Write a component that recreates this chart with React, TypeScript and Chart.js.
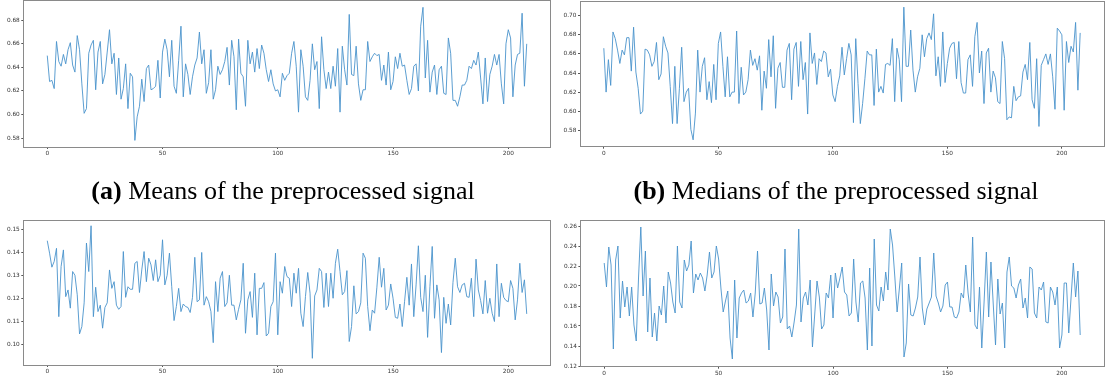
import React, { useEffect, useRef } from "react";
import { Chart, registerables } from "chart.js";
Chart.register(...registerables);

const xTicks = [0, 50, 100, 150, 200];
const meansTicks = [0.58, 0.6, 0.62, 0.64, 0.66, 0.68];
const mediansTicks = [0.58, 0.6, 0.62, 0.64, 0.66, 0.68, 0.7];
const cTicks = [0.1, 0.11, 0.12, 0.13, 0.14, 0.15];
const dTicks = [0.12, 0.14, 0.16, 0.18, 0.2, 0.22, 0.24, 0.26];

const means = [
  0.650, 0.628, 0.629, 0.622, 0.662, 0.645, 0.641, 0.651, 0.643, 0.655,
  0.661, 0.642, 0.636, 0.667, 0.655, 0.626, 0.601, 0.605, 0.652, 0.659,
  0.663, 0.621, 0.653, 0.662, 0.626, 0.634, 0.653, 0.672, 0.643, 0.652,
  0.617, 0.648, 0.613, 0.622, 0.643, 0.605, 0.635, 0.632, 0.578, 0.598,
  0.607, 0.630, 0.611, 0.639, 0.642, 0.621, 0.622, 0.624, 0.646, 0.614,
  0.653, 0.664, 0.655, 0.632, 0.663, 0.624, 0.618, 0.646, 0.675, 0.615,
  0.643, 0.634, 0.617, 0.632, 0.642, 0.648, 0.670, 0.643, 0.655, 0.618,
  0.627, 0.655, 0.613, 0.621, 0.641, 0.634, 0.638, 0.645, 0.657, 0.625,
  0.663, 0.649, 0.604, 0.664, 0.635, 0.632, 0.607, 0.663, 0.643, 0.653,
  0.636, 0.656, 0.639, 0.659, 0.652, 0.638, 0.628, 0.638, 0.626, 0.620,
  0.621, 0.615, 0.635, 0.629, 0.633, 0.635, 0.652, 0.662, 0.641, 0.602,
  0.655, 0.641, 0.615, 0.612, 0.629, 0.660, 0.638, 0.645, 0.605, 0.666,
  0.638, 0.622, 0.636, 0.622, 0.641, 0.624, 0.656, 0.602, 0.658, 0.638,
  0.625, 0.685, 0.634, 0.633, 0.658, 0.626, 0.612, 0.621, 0.621, 0.662,
  0.645, 0.649, 0.652, 0.650, 0.651, 0.629, 0.642, 0.625, 0.653, 0.621,
  0.628, 0.649, 0.639, 0.652, 0.641, 0.642, 0.629, 0.617, 0.622, 0.641,
  0.643, 0.620, 0.675, 0.691, 0.631, 0.663, 0.619, 0.636, 0.642, 0.617,
  0.638, 0.641, 0.618, 0.617, 0.665, 0.652, 0.612, 0.612, 0.607, 0.615,
  0.625, 0.625, 0.629, 0.641, 0.639, 0.646, 0.642, 0.653, 0.631, 0.609,
  0.648, 0.611, 0.634, 0.641, 0.651, 0.642, 0.651, 0.626, 0.609, 0.660,
  0.672, 0.665, 0.615, 0.642, 0.651, 0.652, 0.686, 0.624, 0.660,
];

const medians = [
  0.666, 0.620, 0.654, 0.627, 0.683, 0.676, 0.664, 0.650, 0.664, 0.659,
  0.677, 0.677, 0.642, 0.688, 0.641, 0.624, 0.597, 0.600, 0.665, 0.664,
  0.659, 0.647, 0.652, 0.672, 0.633, 0.639, 0.678, 0.668, 0.661, 0.626,
  0.587, 0.647, 0.587, 0.624, 0.667, 0.610, 0.620, 0.624, 0.581, 0.570,
  0.598, 0.664, 0.620, 0.647, 0.656, 0.612, 0.631, 0.609, 0.649, 0.612,
  0.671, 0.683, 0.647, 0.615, 0.657, 0.615, 0.620, 0.620, 0.684, 0.608,
  0.646, 0.617, 0.620, 0.633, 0.664, 0.648, 0.655, 0.643, 0.658, 0.601,
  0.642, 0.624, 0.675, 0.636, 0.679, 0.603, 0.645, 0.651, 0.625, 0.625,
  0.664, 0.671, 0.612, 0.665, 0.672, 0.626, 0.673, 0.633, 0.651, 0.597,
  0.682, 0.650, 0.661, 0.628, 0.655, 0.652, 0.663, 0.661, 0.636, 0.644,
  0.617, 0.610, 0.626, 0.637, 0.667, 0.638, 0.655, 0.671, 0.659, 0.588,
  0.676, 0.629, 0.587, 0.608, 0.634, 0.663, 0.659, 0.659, 0.606, 0.665,
  0.620, 0.626, 0.619, 0.649, 0.650, 0.648, 0.676, 0.610, 0.666, 0.654,
  0.610, 0.709, 0.647, 0.647, 0.685, 0.643, 0.620, 0.636, 0.645, 0.680,
  0.657, 0.676, 0.682, 0.675, 0.702, 0.637, 0.657, 0.626, 0.683, 0.630,
  0.650, 0.666, 0.671, 0.672, 0.634, 0.673, 0.630, 0.619, 0.619, 0.654,
  0.659, 0.626, 0.678, 0.693, 0.640, 0.663, 0.608, 0.661, 0.666, 0.620,
  0.642, 0.635, 0.610, 0.608, 0.673, 0.655, 0.591, 0.594, 0.593, 0.626,
  0.611, 0.615, 0.616, 0.641, 0.649, 0.633, 0.672, 0.612, 0.603, 0.655,
  0.584, 0.648, 0.654, 0.660, 0.649, 0.660, 0.636, 0.602, 0.687, 0.684,
  0.680, 0.601, 0.673, 0.651, 0.668, 0.662, 0.693, 0.622, 0.682,
];

const seriesC = [
  0.1450, 0.1396, 0.1335, 0.1360, 0.1417, 0.1120, 0.1338, 0.1410, 0.1207, 0.1236,
  0.1157, 0.1316, 0.1300, 0.1215, 0.1045, 0.1077, 0.1180, 0.1440, 0.1316, 0.1515,
  0.1120, 0.1248, 0.1142, 0.1170, 0.1070, 0.1160, 0.1180, 0.1323, 0.1243, 0.1272,
  0.1170, 0.1152, 0.1164, 0.1403, 0.1204, 0.1250, 0.1239, 0.1239, 0.1352, 0.1360,
  0.1225, 0.1323, 0.1403, 0.1272, 0.1374, 0.1345, 0.1277, 0.1367, 0.1272, 0.1300,
  0.1454, 0.1258, 0.1300, 0.1396, 0.1250, 0.1103, 0.1164, 0.1243, 0.1142, 0.1175,
  0.1164, 0.1160, 0.1138, 0.1204, 0.1378, 0.1185, 0.1193, 0.1399, 0.1170, 0.1207,
  0.1185, 0.1142, 0.1007, 0.1272, 0.1142, 0.1287, 0.1316, 0.1164, 0.1180, 0.1300,
  0.1170, 0.1170, 0.1106, 0.1152, 0.1193, 0.1352, 0.1048, 0.1193, 0.1229, 0.1117,
  0.1309, 0.1041, 0.1243, 0.1243, 0.1268, 0.1036, 0.1048, 0.1164, 0.1185, 0.1396,
  0.1041, 0.1272, 0.1222, 0.1338, 0.1294, 0.1287, 0.1164, 0.1309, 0.1222, 0.1330,
  0.1135, 0.1077, 0.1207, 0.1312, 0.1222, 0.0939, 0.1210, 0.1236, 0.1330, 0.1316,
  0.1160, 0.1309, 0.1164, 0.1309, 0.1200, 0.1352, 0.1413, 0.1316, 0.1215, 0.1229,
  0.1320, 0.1012, 0.1077, 0.1254, 0.1132, 0.1142, 0.1180, 0.1396, 0.1374, 0.1164,
  0.1059, 0.1149, 0.1135, 0.1248, 0.1378, 0.1248, 0.1330, 0.1149, 0.1170, 0.1262,
  0.1200, 0.1117, 0.1113, 0.1175, 0.1077, 0.1185, 0.1291, 0.1170, 0.1349, 0.1120,
  0.1258, 0.1428, 0.1204, 0.1142, 0.1300, 0.1030, 0.1250, 0.1425, 0.1113, 0.1258,
  0.1193, 0.0964, 0.1204, 0.1091, 0.1175, 0.1084, 0.1268, 0.1374, 0.1250, 0.1225,
  0.1258, 0.1265, 0.1207, 0.1204, 0.1287, 0.1120, 0.1370, 0.1236, 0.1190, 0.1132,
  0.1277, 0.1135, 0.1200, 0.1135, 0.1099, 0.1349, 0.1120, 0.1265, 0.1204, 0.1190,
  0.1185, 0.1277, 0.1243, 0.1106, 0.1193, 0.1352, 0.1225, 0.1280, 0.1132,
];

const seriesD = [
  0.223, 0.199, 0.239, 0.221, 0.137, 0.226, 0.240, 0.168, 0.205, 0.179,
  0.199, 0.170, 0.199, 0.161, 0.145, 0.208, 0.259, 0.190, 0.235, 0.154,
  0.208, 0.149, 0.173, 0.145, 0.180, 0.171, 0.200, 0.163, 0.214, 0.203,
  0.184, 0.173, 0.240, 0.184, 0.178, 0.226, 0.215, 0.221, 0.245, 0.193,
  0.212, 0.206, 0.213, 0.208, 0.195, 0.211, 0.234, 0.208, 0.214, 0.240,
  0.227, 0.198, 0.174, 0.185, 0.195, 0.148, 0.127, 0.206, 0.148, 0.188,
  0.193, 0.196, 0.183, 0.185, 0.193, 0.169, 0.193, 0.235, 0.182, 0.183,
  0.198, 0.176, 0.136, 0.212, 0.180, 0.194, 0.189, 0.163, 0.169, 0.237,
  0.157, 0.160, 0.149, 0.164, 0.181, 0.257, 0.164, 0.188, 0.194, 0.181,
  0.206, 0.139, 0.172, 0.205, 0.189, 0.157, 0.161, 0.193, 0.188, 0.211,
  0.168, 0.213, 0.198, 0.208, 0.219, 0.194, 0.191, 0.170, 0.173, 0.227,
  0.184, 0.164, 0.203, 0.205, 0.188, 0.136, 0.218, 0.140, 0.247, 0.181,
  0.175, 0.199, 0.185, 0.214, 0.196, 0.257, 0.241, 0.209, 0.174, 0.198,
  0.223, 0.129, 0.143, 0.202, 0.171, 0.170, 0.178, 0.189, 0.229, 0.178,
  0.161, 0.177, 0.183, 0.189, 0.233, 0.190, 0.183, 0.174, 0.180, 0.201,
  0.204, 0.179, 0.179, 0.169, 0.168, 0.174, 0.193, 0.188, 0.221, 0.193,
  0.174, 0.249, 0.161, 0.157, 0.199, 0.138, 0.184, 0.234, 0.169, 0.224,
  0.182, 0.141, 0.207, 0.172, 0.183, 0.138, 0.214, 0.229, 0.200, 0.198,
  0.188, 0.201, 0.207, 0.178, 0.188, 0.168, 0.219, 0.217, 0.173, 0.168,
  0.199, 0.196, 0.204, 0.164, 0.163, 0.199, 0.194, 0.181, 0.199, 0.138,
  0.151, 0.203, 0.203, 0.153, 0.188, 0.223, 0.189, 0.215, 0.151,
];

const LINE = "#4a93cc";
const SPINE = "#8a8a8a";
const TICK_FONT = { family: "DejaVu Sans", size: 5.8 };

const framePlugin = {
  id: "frame",
  afterDraw(chart: any) {
    const { ctx, chartArea: a } = chart;
    ctx.save();
    ctx.strokeStyle = SPINE;
    ctx.lineWidth = 1;
    const l = Math.floor(a.left) + 0.5;
    const t = Math.floor(a.top) + 0.5;
    const r = Math.floor(a.right) + 0.5;
    const b = Math.floor(a.bottom) + 0.5;
    ctx.strokeRect(l, t, r - l, b - t);
    ctx.restore();
  },
};

type Box = { left: number; top: number; w: number; h: number };
type Plot = { left: number; right: number; top: number; bottom: number };

function Panel(props: {
  values: number[];
  yTicks: number[];
  yMin: number;
  yMax: number;
  box: Box;
  plot: Plot;
}) {
  const ref = useRef<HTMLCanvasElement>(null);
  useEffect(() => {
    const { values, yTicks, yMin, yMax, box, plot } = props;
    const chart = new Chart(ref.current as HTMLCanvasElement, {
      type: "line",
      data: {
        datasets: [
          {
            data: values.map((v, i) => ({ x: i, y: v })),
            borderColor: LINE,
            borderWidth: 0.9,
            pointRadius: 0,
            tension: 0,
            fill: false,
          },
        ],
      },
      options: {
        animation: false,
        responsive: false,
        maintainAspectRatio: false,
        events: [],
        layout: {
          padding: {
            left: 0,
            top: plot.top - box.top,
            right: box.left + box.w - plot.right,
            bottom: 0,
          },
        },
        plugins: { legend: { display: false }, tooltip: { enabled: false } },
        scales: {
          x: {
            type: "linear",
            min: -10.4,
            max: 218.4,
            afterBuildTicks: (s: any) => {
              s.ticks = xTicks.map((v) => ({ value: v }));
            },
            afterFit: (s: any) => {
              s.height = box.top + box.h - plot.bottom;
              s.paddingLeft = 0;
              s.paddingRight = 0;
            },
            grid: {
              display: true,
              drawOnChartArea: false,
              drawTicks: true,
              tickLength: 2,
              color: "#555",
            },
            border: { display: false },
            ticks: {
              font: TICK_FONT,
              color: "#333",
              padding: 1,
              maxRotation: 0,
              autoSkip: false,
              callback: (v: any) => String(v),
            },
          },
          y: {
            type: "linear",
            min: yMin,
            max: yMax,
            afterBuildTicks: (s: any) => {
              s.ticks = yTicks.map((v) => ({ value: v }));
            },
            afterFit: (s: any) => {
              s.width = plot.left - box.left;
              s.paddingTop = 0;
              s.paddingBottom = 0;
            },
            grid: {
              display: true,
              drawOnChartArea: false,
              drawTicks: true,
              tickLength: 2,
              color: "#555",
            },
            border: { display: false },
            ticks: {
              font: TICK_FONT,
              color: "#333",
              padding: 1.5,
              autoSkip: false,
              callback: (v: any) => Number(v).toFixed(2),
            },
          },
        },
      },
      plugins: [framePlugin],
    } as any);
    return () => chart.destroy();
  }, []);
  const { box } = props;
  return (
    <canvas
      ref={ref}
      width={box.w}
      height={box.h}
      style={{
        position: "absolute",
        left: box.left,
        top: box.top,
        width: box.w,
        height: box.h,
      }}
    />
  );
}

const captionStyle: React.CSSProperties = {
  position: "absolute",
  top: 178,
  transform: "translateX(-50%)",
  fontFamily: '"Liberation Serif", "Times New Roman", serif',
  fontSize: 26,
  lineHeight: "26px",
  whiteSpace: "nowrap",
  color: "#000",
};

export default function App() {
  return (
    <div
      style={{
        position: "absolute",
        left: 0,
        top: 0,
        width: 1105,
        height: 381,
        background: "#fff",
        overflow: "hidden",
      }}
    >
      <Panel
        values={means}
        yTicks={meansTicks}
        yMin={0.5724}
        yMax={0.6968}
        box={{ left: 0, top: 0, w: 553, h: 165 }}
        plot={{ left: 23.3, right: 550.7, top: 0.5, bottom: 147 }}
      />
      <Panel
        values={medians}
        yTicks={mediansTicks}
        yMin={0.5628}
        yMax={0.7147}
        box={{ left: 556, top: 0, w: 549, h: 165 }}
        plot={{ left: 580, right: 1104, top: 1.7, bottom: 146.7 }}
      />
      <Panel
        values={seriesC}
        yTicks={cTicks}
        yMin={0.091}
        yMax={0.154}
        box={{ left: 0, top: 200, w: 553, h: 181 }}
        plot={{ left: 23.3, right: 550.7, top: 220, bottom: 365 }}
      />
      <Panel
        values={seriesD}
        yTicks={dTicks}
        yMin={0.1193}
        yMax={0.266}
        box={{ left: 556, top: 200, w: 549, h: 181 }}
        plot={{ left: 580.4, right: 1104, top: 220, bottom: 366.7 }}
      />
      <div style={{ ...captionStyle, left: 283 }}>
        <b>(a)</b> Means of the preprocessed signal
      </div>
      <div style={{ ...captionStyle, left: 836 }}>
        <b>(b)</b> Medians of the preprocessed signal
      </div>
    </div>
  );
}
